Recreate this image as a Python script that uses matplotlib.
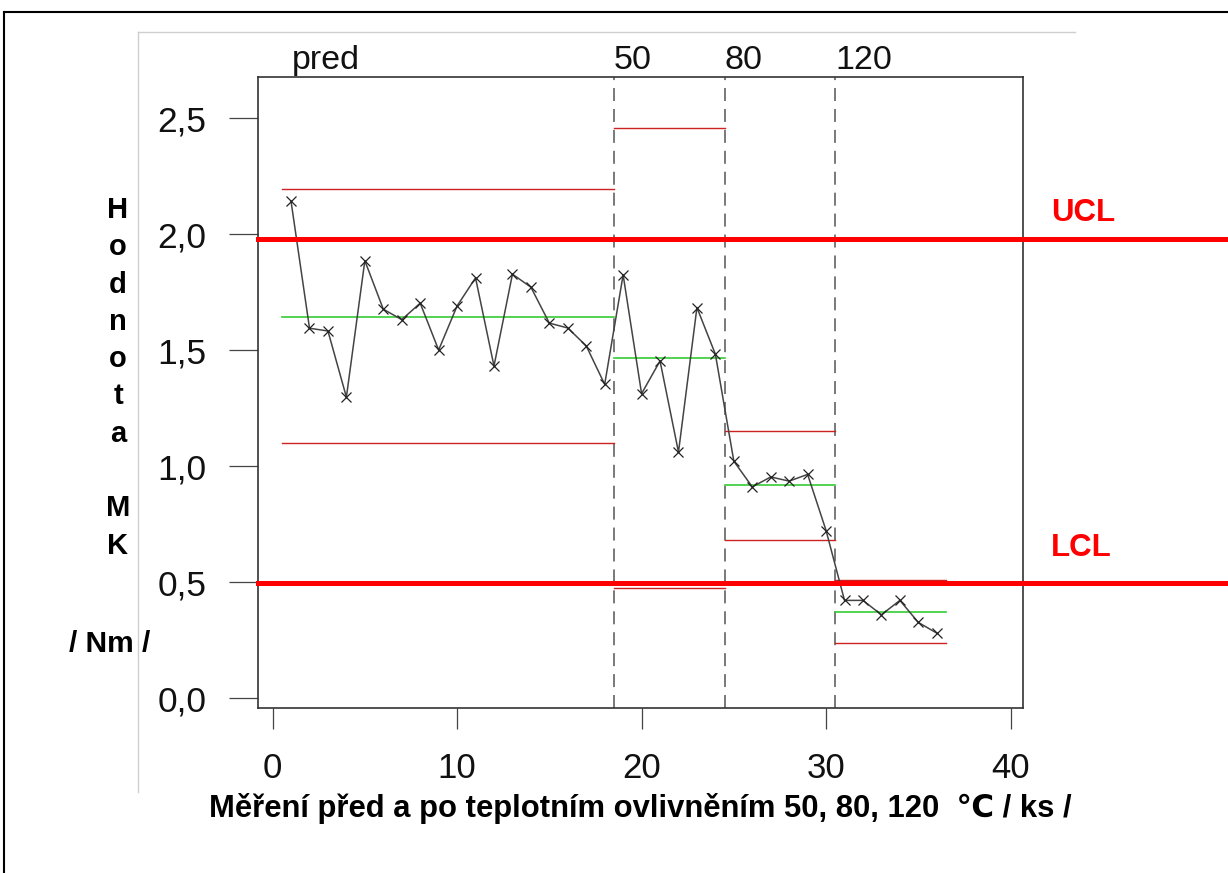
import matplotlib
matplotlib.use("Agg")
import matplotlib.pyplot as plt
from matplotlib.lines import Line2D
from matplotlib.transforms import blended_transform_factory

# ---- data ----
values = [2.142, 1.595, 1.583, 1.298, 1.886, 1.677, 1.632, 1.703, 1.501, 1.691,
          1.812, 1.432, 1.828, 1.772, 1.617, 1.596, 1.519, 1.353,
          1.825, 1.313, 1.454, 1.061, 1.684, 1.483,
          1.022, 0.911, 0.954, 0.936, 0.965, 0.723,
          0.422, 0.422, 0.360, 0.422, 0.327, 0.281]
group_names = ["pred", "50", "80", "120"]
group_sizes = [18, 6, 6, 6]
group_ucl = [2.195, 2.458, 1.152, 0.510]
group_cl = [1.645, 1.466, 0.919, 0.373]
group_lcl = [1.100, 0.477, 0.682, 0.237]
ucl_global = 1.978
lcl_global = 0.495
x_ticks = [0, 10, 20, 30, 40]
y_ticks = [0.0, 0.5, 1.0, 1.5, 2.0, 2.5]
y_ticklabels = ["0,0", "0,5", "1,0", "1,5", "2,0", "2,5"]
ylabel_letters = "Hodnota MK"
ylabel_unit = "/ Nm /"
xlabel = "Měření před a po teplotním ovlivněním 50, 80, 120  ℃ / ks /"

W, H = 1228, 873
fig = plt.figure(figsize=(W / 100, H / 100), dpi=100)
fam = ["Liberation Sans", "DejaVu Sans"]
plt.rcParams["font.family"] = fam


def fx(px):
    return px / W


def fy(py):
    return 1 - py / H


ax = fig.add_axes([fx(258.3), fy(708), fx(1023.3) - fx(258.3), fy(76.7) - fy(708)])
ax.set_xlim(-0.775, 40.69)
ax.set_ylim(-0.0418, 2.679)

xs = list(range(1, len(values) + 1))

# group segments and separators
start = 0
for name, n, u, c, l in zip(group_names, group_sizes, group_ucl, group_cl, group_lcl):
    x0, x1 = start + 0.5, start + n + 0.5
    ax.plot([x0, x1], [u, u], color="#cc2222", lw=1.0, zorder=2)
    ax.plot([x0, x1], [l, l], color="#cc2222", lw=1.0, zorder=2)
    ax.plot([x0, x1], [c, c], color="#33cc33", lw=1.2, zorder=2)
    if start > 0:
        ax.axvline(x0, color="#555555", lw=1.1, dashes=(8.5, 5.2), zorder=1)
    ax.text(start + 1.05 if start == 0 else x0, 1.0122, name,
            transform=blended_transform_factory(ax.transData, ax.transAxes),
            ha="left", va="baseline", fontsize=24.5, color="#111111")
    start += n

ax.plot(xs, values, color="#444444", lw=1.1, marker="x", markersize=7.5,
        markeredgecolor="#222222", markeredgewidth=0.9, zorder=3)

# axes styling
for sp in ax.spines.values():
    sp.set_color("#333333")
    sp.set_linewidth(1.2)
ax.set_xticks(x_ticks)
ax.set_xticklabels([str(t) for t in x_ticks])
ax.set_yticks(y_ticks)
ax.set_yticklabels(y_ticklabels)
ax.tick_params(axis="x", length=15, width=0.9, color="#444444", pad=16.5,
               labelsize=25, labelcolor="#111111")
ax.tick_params(axis="y", length=21, width=0.9, color="#444444", pad=16.5,
               labelsize=25.5, labelcolor="#111111")

# global thick control lines, extending to the figure's right edge
tr = blended_transform_factory(fig.transFigure, ax.transData)
for yv in (ucl_global, lcl_global):
    fig.add_artist(Line2D([fx(258), 1.0], [yv, yv], transform=tr, color="#ff0000",
                          lw=3.6, clip_on=False, zorder=5))
fig.text(fx(1051), fy(221), "UCL", color="#ff0000", fontsize=22.5,
         fontweight="bold", ha="left", va="baseline")
fig.text(fx(1051), fy(556), "LCL", color="#ff0000", fontsize=22.5,
         fontweight="bold", ha="left", va="baseline")

# stacked y label
for i, ch in enumerate(ylabel_letters):
    if ch == " ":
        continue
    fig.text(fx(118), fy(218 + i * 37.3), ch, fontsize=21, fontweight="bold",
             ha="center", va="baseline", color="#000000")
fig.text(fx(110), fy(652), ylabel_unit, fontsize=21.5, fontweight="bold",
         ha="center", va="baseline", color="#000000")

# x label
fig.text(fx(640), fy(817), xlabel, fontsize=22.3, fontweight="bold",
         ha="center", va="baseline", color="#000000")

# inner picture frame (light gray) and outer border
fig.add_artist(Line2D([fx(138), fx(138)], [fy(32), fy(792)], color="#cfcfcf", lw=1.0))
fig.add_artist(Line2D([fx(138), fx(1075)], [fy(32), fy(32)], color="#cfcfcf", lw=1.0))
fig.add_artist(Line2D([fx(4), fx(4)], [fy(12), 0.0], color="#000000", lw=1.5))
fig.add_artist(Line2D([fx(4), 1.0], [fy(12), fy(12)], color="#000000", lw=1.5))

fig.savefig("out.png", dpi=100)
